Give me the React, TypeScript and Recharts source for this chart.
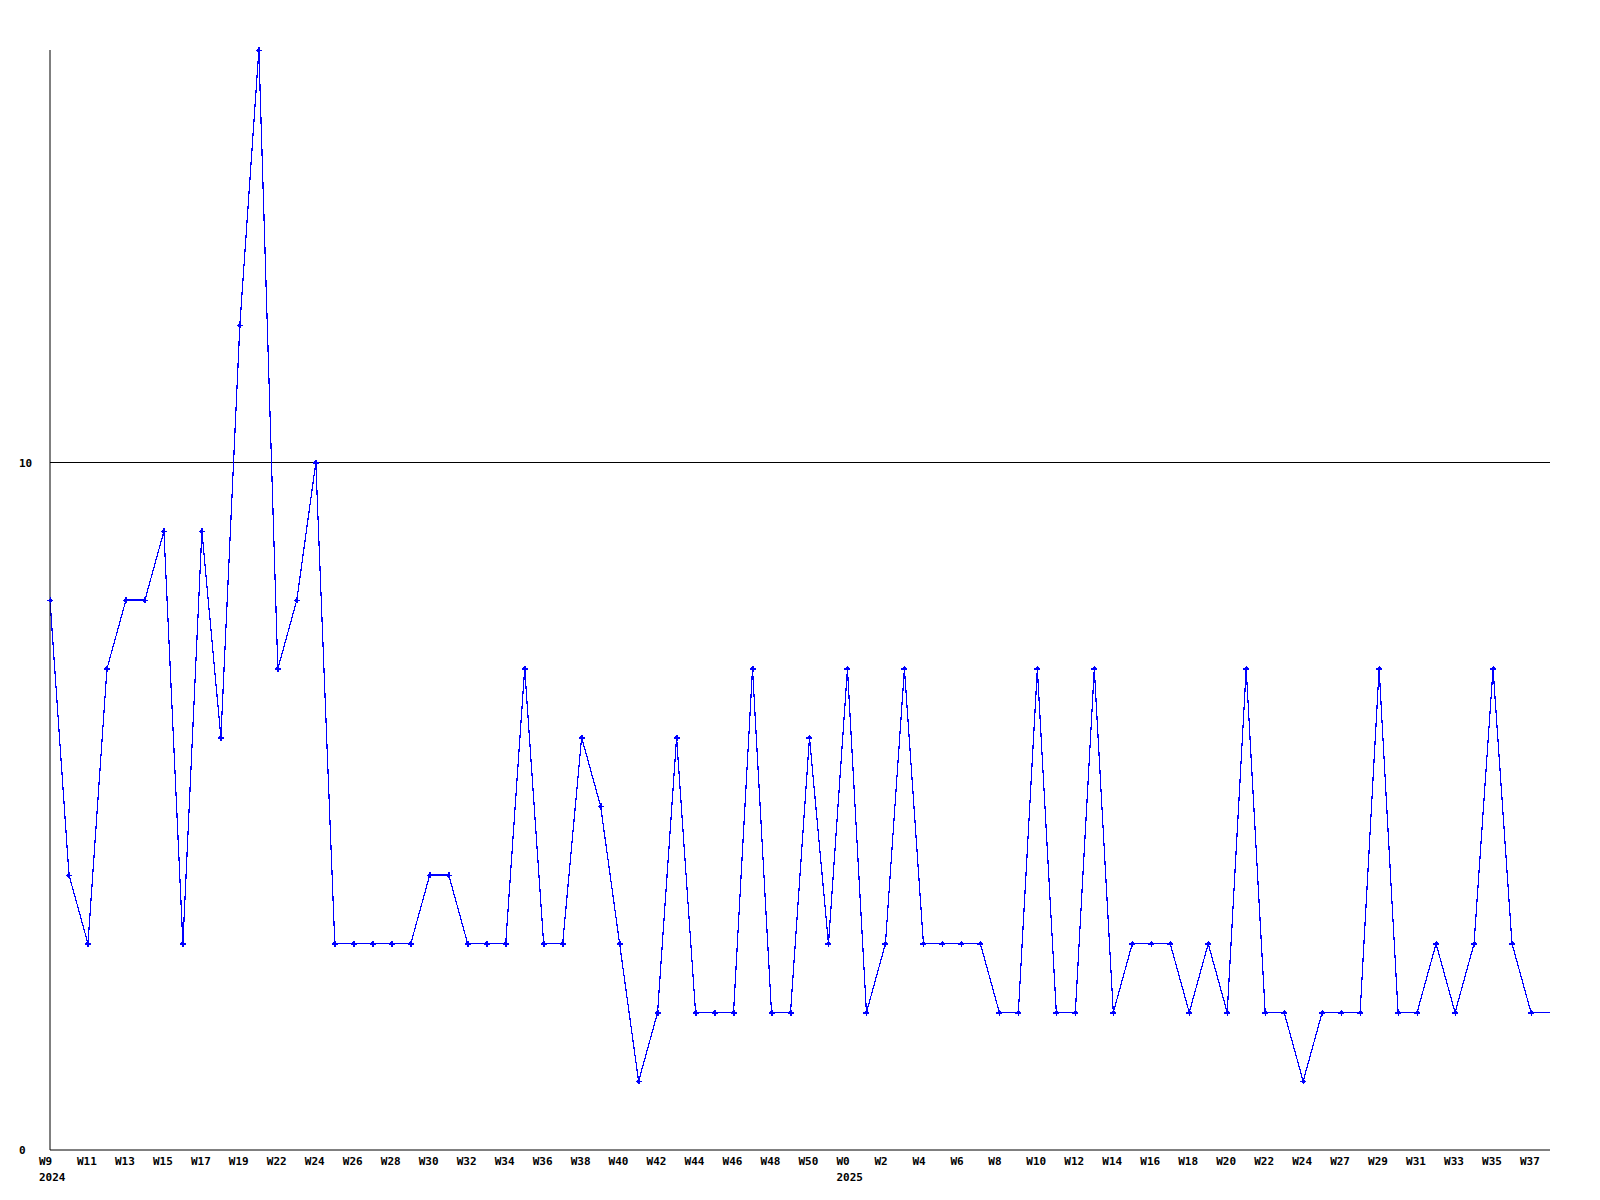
import React from 'react';
import { LineChart, Line, XAxis, YAxis, ReferenceLine } from 'recharts';

// week labels, one per sample (some weeks are missing in the source)
const weeks = [
  'W9', 'W10', 'W11', 'W12', 'W13', 'W14', 'W15', 'W16', 'W17', 'W18', 'W19', 'W20',
  'W22', 'W23', 'W24', 'W25', 'W26', 'W27', 'W28', 'W29', 'W30', 'W31', 'W32', 'W33',
  'W34', 'W35', 'W36', 'W37', 'W38', 'W39', 'W40', 'W41', 'W42', 'W43', 'W44', 'W45',
  'W46', 'W47', 'W48', 'W49', 'W50', 'W51',
  'W0', 'W1', 'W2', 'W3', 'W4', 'W5', 'W6', 'W7', 'W8', 'W9', 'W10', 'W11', 'W12',
  'W13', 'W14', 'W15', 'W16', 'W17', 'W18', 'W19', 'W20', 'W21', 'W22', 'W23', 'W24',
  'W25', 'W27', 'W28', 'W29', 'W30', 'W31', 'W32', 'W33', 'W34', 'W35', 'W36', 'W37', 'W38',
];

const counts = [
  8, 4, 3, 7, 8, 8, 9, 3, 9, 6,
  12, 16, 7, 8, 10, 3, 3, 3, 3, 3,
  4, 4, 3, 3, 3, 7, 3, 3, 6, 5,
  3, 1, 2, 6, 2, 2, 2, 7, 2, 2,
  6, 3, 7, 2, 3, 7, 3, 3, 3, 3,
  2, 2, 7, 2, 2, 7, 2, 3, 3, 3,
  2, 3, 2, 7, 2, 2, 1, 2, 2, 2,
  7, 2, 2, 3, 2, 3, 7, 3, 2, 2,
];

// year shown under the first week of each year
const yearStarts: Record<number, string> = { 0: '2024', 42: '2025' };

const yTicks = [0, 10];

const data = counts.map((v, i) => ({ idx: i, week: weeks[i], value: v }));
const xTicks = data.filter((d) => d.idx % 2 === 0 && d.idx < data.length - 1).map((d) => d.idx);

const FONT = '"DejaVu Sans Mono", "Liberation Mono", monospace';

const XTick = (props: any) => {
  const { x, y, payload } = props;
  const year = yearStarts[payload.value];
  return (
    <g>
      <text x={x - 11} y={y + 15} fontFamily={FONT} fontSize={11} fontWeight="bold" fill="#000">
        {weeks[payload.value]}
      </text>
      {year && (
        <text x={x - 11} y={y + 31} fontFamily={FONT} fontSize={11} fontWeight="bold" fill="#000">
          {year}
        </text>
      )}
    </g>
  );
};

const YTick = (props: any) => {
  const { y, payload } = props;
  return (
    <text x={19} y={y + 4} fontFamily={FONT} fontSize={11} fontWeight="bold" fill="#000">
      {payload.value}
    </text>
  );
};

// small plus marker, skipped for the trailing fill point
const PlusDot = (props: any) => {
  const { cx, cy, index } = props;
  if (index === data.length - 1 || cx == null) return <g key={index} />;
  return (
    <g key={index} shapeRendering="crispEdges">
      <rect x={cx - 3} y={cy - 0.5} width={6} height={1.5} fill="#0000ff" />
      <rect x={cx - 0.5} y={cy - 3} width={1.5} height={6} fill="#0000ff" />
      <rect x={cx - 1.5} y={cy - 1.5} width={3} height={3} fill="#0000ff" />
    </g>
  );
};

export default function App() {
  return (
    <div style={{ position: 'absolute', left: 0, top: 0, width: 1600, height: 1200, background: '#fff' }}>
      <LineChart width={1600} height={1200} data={data} margin={{ top: 50, right: 50, left: 0, bottom: 0 }}>
        <XAxis
          dataKey="idx"
          type="number"
          domain={[0, data.length - 1]}
          ticks={xTicks}
          interval={0}
          height={50}
          tickLine={false}
          tickSize={0}
          tickMargin={0}
          stroke="#000"
          tick={<XTick />}
        />
        <YAxis
          type="number"
          domain={[0, 16]}
          ticks={yTicks}
          width={50}
          tickLine={false}
          tickSize={0}
          tickMargin={0}
          stroke="#000"
          tick={<YTick />}
        />
        <ReferenceLine y={10} stroke="#000" strokeWidth={1} />
        <Line
          type="linear"
          dataKey="value"
          stroke="#0000ff"
          strokeWidth={1.2}
          shapeRendering="crispEdges"
          dot={<PlusDot />}
          activeDot={false}
          isAnimationActive={false}
        />
      </LineChart>
    </div>
  );
}
